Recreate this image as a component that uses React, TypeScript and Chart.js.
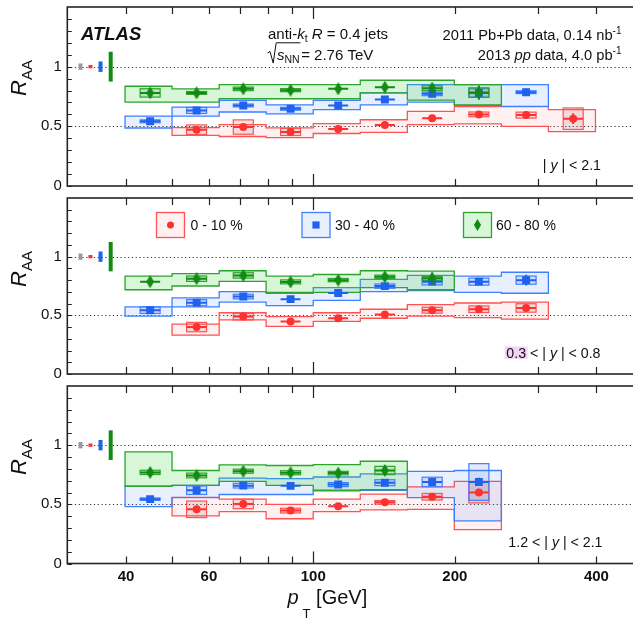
import React, { useEffect, useRef } from "react";
import { Chart, registerables } from "chart.js";
Chart.register(...registerables);

const FONT = "'Liberation Sans', Arial, Helvetica, sans-serif";
Chart.defaults.font.family = FONT;

// ---------- axes ----------
const X_MIN = 30;
const X_MAX = 500;
const Y_MIN = 0;
const Y_MAX = 1.5;
const X_TICKS = [40, 50, 60, 70, 80, 90, 100, 200, 300, 400];
const X_LABELS = [40, 60, 100, 200, 400];
const Y_LABELS = [0, 0.5, 1];
const Y_MINOR = [0, 0.1, 0.2, 0.3, 0.4, 0.5, 0.6, 0.7, 0.8, 0.9, 1.0, 1.1, 1.2, 1.3, 1.4];
const REF_LINES = [0.5, 1];

// ---------- binning (pT, GeV) ----------
const BIN_EDGES = [39.8, 50.1, 63.1, 79.4, 100, 125.9, 158.5, 199.5, 251.2, 316.2, 398.1];
const BIN_CENTERS = [45, 56.5, 71, 89.5, 113, 142, 179, 225, 283.5, 357];

// ---------- normalisation uncertainties at RAA = 1 ----------
const NORM_X = [32, 33.6, 35.3, 37.1];
const NORM_HALF = [0.027, 0.014, 0.044, 0.125];
const NORM_KEYS = ["grey", "red", "blue", "green"];

// ---------- text ----------
const CENTRALITY = ["0 - 10 %", "30 - 40 %", "60 - 80 %"];
const RAPIDITY = [
  ["", "2.1"],
  ["0.3", "0.8"],
  ["1.2", "2.1"],
];

// ---------- panel 1 : |y| < 2.1 ----------
const P1_RED_FIRST = 1;
const P1_RED_VAL = [0.472, 0.494, 0.453, 0.478, 0.511, 0.567, 0.6, 0.594, 0.564];
const P1_RED_STAT = [0.015, 0.02, 0.015, 0.012, 0.012, 0.014, 0.015, 0.02, 0.045];
const P1_RED_UNC = [0.04, 0.06, 0.03, 0.005, 0.005, 0.005, 0.02, 0.025, 0.09];
const P1_RED_LO = [0.425, 0.415, 0.405, 0.44, 0.45, 0.515, 0.52, 0.5, 0.455];
const P1_RED_HI = [0.49, 0.515, 0.487, 0.522, 0.555, 0.625, 0.665, 0.665, 0.64];

const P1_BLUE_FIRST = 0;
const P1_BLUE_VAL = [0.542, 0.633, 0.675, 0.647, 0.675, 0.725, 0.772, 0.78, 0.786];
const P1_BLUE_STAT = [0.012, 0.012, 0.012, 0.012, 0.012, 0.012, 0.02, 0.03, 0.03];
const P1_BLUE_UNC = [0.012, 0.025, 0.012, 0.012, 0.004, 0.008, 0.015, 0.035, 0.012];
const P1_BLUE_LO = [0.486, 0.586, 0.62, 0.605, 0.64, 0.68, 0.703, 0.675, 0.667];
const P1_BLUE_HI = [0.586, 0.661, 0.717, 0.68, 0.717, 0.78, 0.85, 0.85, 0.85];

const P1_GREEN_FIRST = 0;
const P1_GREEN_VAL = [0.78, 0.78, 0.814, 0.803, 0.814, 0.828, 0.82, 0.783];
const P1_GREEN_STAT = [0.035, 0.025, 0.025, 0.025, 0.025, 0.03, 0.035, 0.06];
const P1_GREEN_UNC = [0.035, 0.012, 0.015, 0.013, 0.004, 0.008, 0.02, 0.04];
const P1_GREEN_LO = [0.703, 0.703, 0.731, 0.731, 0.731, 0.78, 0.72, 0.68];
const P1_GREEN_HI = [0.836, 0.814, 0.85, 0.85, 0.85, 0.886, 0.886, 0.85];

// ---------- panel 2 : 0.3 < |y| < 0.8 ----------
const P2_RED_FIRST = 1;
const P2_RED_VAL = [0.4, 0.489, 0.448, 0.475, 0.508, 0.544, 0.552, 0.563];
const P2_RED_STAT = [0.02, 0.015, 0.012, 0.012, 0.012, 0.015, 0.02, 0.025];
const P2_RED_UNC = [0.04, 0.028, 0.004, 0.004, 0.004, 0.025, 0.028, 0.036];
const P2_RED_LO = [0.331, 0.461, 0.406, 0.448, 0.475, 0.494, 0.481, 0.467];
const P2_RED_HI = [0.425, 0.522, 0.489, 0.522, 0.552, 0.591, 0.605, 0.613];

const P2_BLUE_FIRST = 0;
const P2_BLUE_VAL = [0.544, 0.608, 0.66, 0.638, 0.69, 0.749, 0.787, 0.787, 0.8];
const P2_BLUE_STAT = [0.015, 0.012, 0.012, 0.012, 0.012, 0.012, 0.02, 0.025, 0.045];
const P2_BLUE_UNC = [0.028, 0.026, 0.02, 0.004, 0.004, 0.018, 0.028, 0.03, 0.035];
const P2_BLUE_LO = [0.494, 0.572, 0.613, 0.583, 0.627, 0.702, 0.71, 0.696, 0.688];
const P2_BLUE_HI = [0.572, 0.649, 0.702, 0.688, 0.737, 0.807, 0.84, 0.834, 0.867];

const P2_GREEN_FIRST = 0;
const P2_GREEN_VAL = [0.787, 0.812, 0.84, 0.785, 0.8, 0.829, 0.815];
const P2_GREEN_STAT = [0.02, 0.025, 0.025, 0.025, 0.02, 0.025, 0.05];
const P2_GREEN_UNC = [0.004, 0.023, 0.023, 0.017, 0.014, 0.014, 0.017];
const P2_GREEN_LO = [0.718, 0.75, 0.79, 0.696, 0.696, 0.737, 0.718];
const P2_GREEN_HI = [0.834, 0.856, 0.88, 0.834, 0.848, 0.88, 0.876];

// ---------- panel 3 : 1.2 < |y| < 2.1 ----------
const P3_RED_FIRST = 1;
const P3_RED_VAL = [0.458, 0.503, 0.447, 0.483, 0.517, 0.564, 0.6];
const P3_RED_STAT = [0.02, 0.02, 0.015, 0.012, 0.012, 0.015, 0.03];
const P3_RED_UNC = [0.07, 0.04, 0.02, 0.004, 0.015, 0.028, 0.088];
const P3_RED_LO = [0.403, 0.439, 0.378, 0.439, 0.453, 0.458, 0.286];
const P3_RED_HI = [0.558, 0.544, 0.5, 0.544, 0.586, 0.647, 0.694];

const P3_BLUE_FIRST = 0;
const P3_BLUE_VAL = [0.544, 0.619, 0.658, 0.656, 0.667, 0.683, 0.689, 0.689];
const P3_BLUE_STAT = [0.012, 0.015, 0.012, 0.012, 0.012, 0.015, 0.02, 0.035];
const P3_BLUE_UNC = [0.01, 0.036, 0.02, 0.008, 0.017, 0.025, 0.04, 0.155];
const P3_BLUE_LO = [0.481, 0.556, 0.583, 0.583, 0.614, 0.619, 0.556, 0.361];
const P3_BLUE_HI = [0.653, 0.661, 0.722, 0.717, 0.731, 0.758, 0.778, 0.786];

const P3_GREEN_FIRST = 0;
const P3_GREEN_VAL = [0.77, 0.744, 0.78, 0.767, 0.764, 0.786];
const P3_GREEN_STAT = [0.025, 0.025, 0.025, 0.025, 0.025, 0.04];
const P3_GREEN_UNC = [0.018, 0.02, 0.017, 0.017, 0.015, 0.035];
const P3_GREEN_LO = [0.653, 0.661, 0.694, 0.661, 0.619, 0.625];
const P3_GREEN_HI = [0.944, 0.786, 0.833, 0.828, 0.836, 0.864];

type Series = {
  key: string;
  first: number;
  val: number[];
  stat: number[];
  unc: number[];
  lo: number[];
  hi: number[];
};

const PANEL_SERIES: Series[][] = [
  [
    { key: "red", first: P1_RED_FIRST, val: P1_RED_VAL, stat: P1_RED_STAT, unc: P1_RED_UNC, lo: P1_RED_LO, hi: P1_RED_HI },
    { key: "blue", first: P1_BLUE_FIRST, val: P1_BLUE_VAL, stat: P1_BLUE_STAT, unc: P1_BLUE_UNC, lo: P1_BLUE_LO, hi: P1_BLUE_HI },
    { key: "green", first: P1_GREEN_FIRST, val: P1_GREEN_VAL, stat: P1_GREEN_STAT, unc: P1_GREEN_UNC, lo: P1_GREEN_LO, hi: P1_GREEN_HI },
  ],
  [
    { key: "red", first: P2_RED_FIRST, val: P2_RED_VAL, stat: P2_RED_STAT, unc: P2_RED_UNC, lo: P2_RED_LO, hi: P2_RED_HI },
    { key: "blue", first: P2_BLUE_FIRST, val: P2_BLUE_VAL, stat: P2_BLUE_STAT, unc: P2_BLUE_UNC, lo: P2_BLUE_LO, hi: P2_BLUE_HI },
    { key: "green", first: P2_GREEN_FIRST, val: P2_GREEN_VAL, stat: P2_GREEN_STAT, unc: P2_GREEN_UNC, lo: P2_GREEN_LO, hi: P2_GREEN_HI },
  ],
  [
    { key: "red", first: P3_RED_FIRST, val: P3_RED_VAL, stat: P3_RED_STAT, unc: P3_RED_UNC, lo: P3_RED_LO, hi: P3_RED_HI },
    { key: "blue", first: P3_BLUE_FIRST, val: P3_BLUE_VAL, stat: P3_BLUE_STAT, unc: P3_BLUE_UNC, lo: P3_BLUE_LO, hi: P3_BLUE_HI },
    { key: "green", first: P3_GREEN_FIRST, val: P3_GREEN_VAL, stat: P3_GREEN_STAT, unc: P3_GREEN_UNC, lo: P3_GREEN_LO, hi: P3_GREEN_HI },
  ],
];

// ---------- styles ----------
const STYLE: any = {
  red: { marker: "#ff3030", line: "#ff5252", fill: "rgba(255,60,60,0.07)", boxFill: "rgba(190,110,110,0.18)", radius: 4 },
  blue: { marker: "#1f62f0", line: "#3f80ff", fill: "rgba(50,115,255,0.11)", boxFill: "rgba(90,120,190,0.16)", radius: 5.6 },
  green: { marker: "#138a13", line: "#2ea32e", fill: "rgba(60,210,60,0.2)", boxFill: "rgba(60,160,60,0.18)", radius: 6 },
  grey: { marker: "#9a9a9a" },
};
const BOX_HALF_PX = 10;
const NORM_HALF_PX = 2;
const CANVAS_W = 650;
const CANVAS_TOP = [0, 192, 380];
const CANVAS_H = [192, 188, 238];
const PAD_TOP = [7, 2.5, 1.5];
const PAD_BOTTOM = [3, 3.5, 0];
const Y_AXIS_W = 67.3;
const X_AXIS_H = 54.5;
const TEXT = "#111";

const f = (size: number, style = "") => `${style} ${size}px ${FONT}`;

type Part = { t: string; font: string; dy?: number; dx?: number };
function richWidth(ctx: CanvasRenderingContext2D, parts: Part[]) {
  let w = 0;
  for (const p of parts) {
    ctx.font = p.font;
    w += ctx.measureText(p.t).width + (p.dx || 0);
  }
  return w;
}
function drawRich(ctx: CanvasRenderingContext2D, parts: Part[], x: number, y: number, align = "left") {
  const w = richWidth(ctx, parts);
  let cx = align === "right" ? x - w : align === "center" ? x - w / 2 : x;
  const start = cx;
  ctx.textAlign = "left";
  ctx.textBaseline = "alphabetic";
  for (const p of parts) {
    ctx.font = p.font;
    cx += p.dx || 0;
    ctx.fillText(p.t, cx, y + (p.dy || 0));
    cx += ctx.measureText(p.t).width;
  }
  return start;
}

function makeDiamond(color: string, w: number, h: number) {
  const c = document.createElement("canvas");
  c.width = w;
  c.height = h;
  const g = c.getContext("2d")!;
  g.fillStyle = color;
  g.beginPath();
  g.moveTo(w / 2, 0);
  g.lineTo(w, h / 2);
  g.lineTo(w / 2, h);
  g.lineTo(0, h / 2);
  g.closePath();
  g.fill();
  return c;
}

function drawMarker(ctx: CanvasRenderingContext2D, key: string, x: number, y: number, s = 1) {
  ctx.fillStyle = STYLE[key].marker;
  ctx.beginPath();
  if (key === "red") {
    ctx.arc(x, y, 3.5 * s, 0, Math.PI * 2);
  } else if (key === "blue") {
    ctx.rect(x - 3.6 * s, y - 3.6 * s, 7.2 * s, 7.2 * s);
  } else {
    ctx.moveTo(x, y - 6 * s);
    ctx.lineTo(x + 3.6 * s, y);
    ctx.lineTo(x, y + 6 * s);
    ctx.lineTo(x - 3.6 * s, y);
    ctx.closePath();
  }
  ctx.fill();
}

function drawUnder(chart: any, panel: number) {
  const ctx: CanvasRenderingContext2D = chart.ctx;
  const xs = chart.scales.x;
  const ys = chart.scales.y;
  const area = chart.chartArea;
  ctx.save();
  // dotted reference lines
  ctx.strokeStyle = "#333";
  ctx.lineWidth = 1;
  ctx.setLineDash([1.2, 2.6]);
  for (const v of REF_LINES) {
    const y = Math.round(ys.getPixelForValue(v)) + 0.5;
    ctx.beginPath();
    ctx.moveTo(area.left, y);
    ctx.lineTo(area.right, y);
    ctx.stroke();
  }
  ctx.setLineDash([]);
  // normalisation boxes
  for (let k = 0; k < NORM_X.length; k++) {
    const x = xs.getPixelForValue(NORM_X[k]);
    const y1 = ys.getPixelForValue(1 + NORM_HALF[k]);
    const y2 = ys.getPixelForValue(1 - NORM_HALF[k]);
    ctx.fillStyle = STYLE[NORM_KEYS[k]].marker;
    ctx.fillRect(x - NORM_HALF_PX, y1, NORM_HALF_PX * 2, y2 - y1);
  }
  const series = PANEL_SERIES[panel];
  // correlated systematic bands
  for (const s of series) {
    const st = STYLE[s.key];
    const n = s.val.length;
    ctx.beginPath();
    for (let i = 0; i < n; i++) {
      const b = s.first + i;
      const xl = xs.getPixelForValue(BIN_EDGES[b]);
      const xr = xs.getPixelForValue(BIN_EDGES[b + 1]);
      const yt = ys.getPixelForValue(s.hi[i]);
      if (i === 0) ctx.moveTo(xl, yt);
      else ctx.lineTo(xl, yt);
      ctx.lineTo(xr, yt);
    }
    for (let i = n - 1; i >= 0; i--) {
      const b = s.first + i;
      const xl = xs.getPixelForValue(BIN_EDGES[b]);
      const xr = xs.getPixelForValue(BIN_EDGES[b + 1]);
      const yb = ys.getPixelForValue(s.lo[i]);
      ctx.lineTo(xr, yb);
      ctx.lineTo(xl, yb);
    }
    ctx.closePath();
    ctx.fillStyle = st.fill;
    ctx.fill();
    ctx.strokeStyle = st.line;
    ctx.lineWidth = 1.3;
    ctx.stroke();
  }
  // uncorrelated systematic boxes
  for (const s of series) {
    const st = STYLE[s.key];
    for (let i = 0; i < s.val.length; i++) {
      const x = xs.getPixelForValue(BIN_CENTERS[s.first + i]);
      const yt = ys.getPixelForValue(s.val[i] + s.unc[i]);
      const yb = ys.getPixelForValue(s.val[i] - s.unc[i]);
      if (yb - yt < 2) continue;
      ctx.fillStyle = st.boxFill;
      ctx.fillRect(x - BOX_HALF_PX, yt, BOX_HALF_PX * 2, yb - yt);
      ctx.strokeStyle = st.line;
      ctx.lineWidth = 1.2;
      ctx.strokeRect(x - BOX_HALF_PX, yt, BOX_HALF_PX * 2, yb - yt);
    }
  }
  // statistical error bars
  for (const s of series) {
    const st = STYLE[s.key];
    ctx.strokeStyle = st.marker;
    ctx.lineWidth = 2;
    for (let i = 0; i < s.val.length; i++) {
      const x = xs.getPixelForValue(BIN_CENTERS[s.first + i]);
      const y = ys.getPixelForValue(s.val[i]);
      const yt = ys.getPixelForValue(s.val[i] + s.stat[i]);
      const yb = ys.getPixelForValue(s.val[i] - s.stat[i]);
      ctx.beginPath();
      ctx.moveTo(x, yt);
      ctx.lineTo(x, yb);
      ctx.moveTo(x - BOX_HALF_PX, y);
      ctx.lineTo(x + BOX_HALF_PX, y);
      ctx.stroke();
    }
  }
  ctx.restore();
}

function drawOver(chart: any, panel: number) {
  const ctx: CanvasRenderingContext2D = chart.ctx;
  const xs = chart.scales.x;
  const ys = chart.scales.y;
  const area = chart.chartArea;
  ctx.save();
  // ticks
  ctx.strokeStyle = "#222";
  ctx.lineWidth = 1.2;
  ctx.beginPath();
  for (const v of X_TICKS) {
    const x = Math.round(xs.getPixelForValue(v)) + 0.5;
    const len = v === 100 ? 12 : 7;
    ctx.moveTo(x, area.bottom);
    ctx.lineTo(x, area.bottom - len);
    ctx.moveTo(x, area.top);
    ctx.lineTo(x, area.top + len);
  }
  for (const v of Y_MINOR) {
    const y = Math.round(ys.getPixelForValue(v)) + 0.5;
    ctx.moveTo(area.left, y);
    ctx.lineTo(area.left + 4.5, y);
  }
  ctx.stroke();
  // frame
  ctx.lineWidth = 1.6;
  ctx.strokeStyle = "#252525";
  ctx.strokeRect(area.left, area.top, area.right - area.left, area.bottom - area.top);

  // Y title R_AA
  ctx.fillStyle = TEXT;
  ctx.save();
  ctx.translate(26, area.top + 71);
  ctx.rotate(-Math.PI / 2);
  drawRich(
    ctx,
    [
      { t: "R", font: f(22, "italic") },
      { t: "AA", font: f(15), dy: 6 },
    ],
    0,
    0,
    "center"
  );
  ctx.restore();

  // page coordinates from here
  ctx.translate(0, -CANVAS_TOP[panel]);
  ctx.fillStyle = TEXT;

  // rapidity label
  const [rl, rh] = RAPIDITY[panel];
  const RF = 14.2;
  const rparts: Part[] = [];
  if (rl) rparts.push({ t: rl, font: f(RF) }, { t: " < ", font: f(RF) });
  rparts.push({ t: "| ", font: f(RF) }, { t: "y", font: f(RF, "italic") }, { t: " | < " + rh, font: f(RF) });
  const rBase = [169.8, 357.5, 546.5][panel];
  const rRight = [601, 600.5, 602.5][panel];
  if (panel === 1) {
    const w = richWidth(ctx, rparts);
    ctx.font = f(RF);
    const w03 = ctx.measureText(rl).width;
    ctx.fillStyle = "#f3d4f6";
    ctx.fillRect(rRight - w - 1.5, 346.5, w03 + 3, 12.5);
    ctx.fillStyle = TEXT;
  }
  drawRich(ctx, rparts, rRight, rBase, "right");

  if (panel === 0) {
    drawRich(ctx, [{ t: "ATLAS", font: f(18.5, "italic bold") }], 81, 39.5);
    drawRich(
      ctx,
      [
        { t: "anti-", font: f(15) },
        { t: "k", font: f(15, "italic") },
        { t: "t", font: f(10.5), dy: 3 },
        { t: " ", font: f(15) },
        { t: "R", font: f(15, "italic") },
        { t: " = 0.4 jets", font: f(15) },
      ],
      268,
      38.5
    );
    // sqrt(s_NN)
    ctx.strokeStyle = TEXT;
    ctx.lineWidth = 1;
    ctx.beginPath();
    ctx.moveTo(267.5, 53);
    ctx.lineTo(270, 51.5);
    ctx.lineTo(273.2, 63);
    ctx.lineTo(276.2, 42.8);
    ctx.lineTo(300.5, 42.8);
    ctx.stroke();
    drawRich(
      ctx,
      [
        { t: "s", font: f(15, "italic") },
        { t: "NN", font: f(10.5), dy: 3 },
        { t: "= 2.76 TeV", font: f(15), dx: 1.5 },
      ],
      277,
      59.5
    );
    drawRich(
      ctx,
      [
        { t: "2011 Pb+Pb data, 0.14 nb", font: f(14.7) },
        { t: "-1", font: f(10), dy: -6 },
      ],
      621.5,
      39.5,
      "right"
    );
    drawRich(
      ctx,
      [
        { t: "2013 ", font: f(14.7) },
        { t: "pp", font: f(14.7, "italic") },
        { t: " data, 4.0 pb", font: f(14.7) },
        { t: "-1", font: f(10), dy: -6 },
      ],
      621.5,
      60,
      "right"
    );
  }

  if (panel === 1) {
    const keys = ["red", "blue", "green"];
    const boxX = [156.5, 302, 463.5];
    const textX = [190.5, 335, 496];
    for (let k = 0; k < 3; k++) {
      const st = STYLE[keys[k]];
      ctx.fillStyle = "#fff";
      ctx.fillRect(boxX[k], 212.5, 28, 25);
      ctx.fillStyle = st.fill;
      ctx.fillRect(boxX[k], 212.5, 28, 25);
      ctx.strokeStyle = st.line;
      ctx.lineWidth = 1.3;
      ctx.strokeRect(boxX[k], 212.5, 28, 25);
      drawMarker(ctx, keys[k], boxX[k] + 14, 225);
      ctx.fillStyle = TEXT;
      drawRich(ctx, [{ t: CENTRALITY[k], font: f(14) }], textX[k], 230);
    }
  }

  if (panel === 2) {
    ctx.fillStyle = TEXT;
    drawRich(
      ctx,
      [
        { t: "p", font: f(20, "italic") },
        { t: "T", font: f(13), dy: 13.5, dx: 4 },
        { t: " [GeV]", font: f(20), dx: 0 },
      ],
      287.5,
      604
    );
  }
  ctx.restore();
}

function buildConfig(panel: number, diamond: HTMLCanvasElement): any {
  const showX = panel === 2;
  const series = PANEL_SERIES[panel];
  const datasets = [...series].reverse().map((s) => ({
    label: s.key,
    data: s.val.map((v, i) => ({ x: BIN_CENTERS[s.first + i], y: v })),
    pointStyle: s.key === "red" ? "circle" : s.key === "blue" ? "rect" : diamond,
    pointRadius: STYLE[s.key].radius,
    pointHoverRadius: STYLE[s.key].radius,
    backgroundColor: STYLE[s.key].marker,
    borderColor: STYLE[s.key].marker,
    borderWidth: 0,
    showLine: false,
  }));
  return {
    type: "scatter",
    data: { datasets },
    options: {
      animation: false,
      responsive: false,
      maintainAspectRatio: false,
      devicePixelRatio: 1,
      events: [],
      layout: { padding: { left: 0, right: CANVAS_W - 642, top: PAD_TOP[panel], bottom: PAD_BOTTOM[panel] } },
      plugins: { legend: { display: false }, tooltip: { enabled: false } },
      scales: {
        x: {
          type: "logarithmic",
          min: X_MIN,
          max: X_MAX,
          display: showX,
          afterBuildTicks: (s: any) => {
            s.ticks = X_TICKS.map((v) => ({ value: v }));
          },
          afterFit: (s: any) => {
            s.height = showX ? X_AXIS_H : 0;
            s.paddingLeft = 0;
            s.paddingRight = 0;
          },
          ticks: {
            autoSkip: false,
            maxRotation: 0,
            minRotation: 0,
            padding: 4,
            color: TEXT,
            font: { family: FONT, size: 15, weight: "bold" },
            callback: (v: any) => (X_LABELS.includes(Number(v)) ? String(v) : ""),
          },
          grid: { display: false, drawTicks: false },
          border: { display: false },
        },
        y: {
          min: Y_MIN,
          max: Y_MAX,
          afterBuildTicks: (s: any) => {
            s.ticks = Y_LABELS.map((v) => ({ value: v }));
          },
          afterFit: (s: any) => {
            s.width = Y_AXIS_W;
            s.paddingTop = 0;
            s.paddingBottom = 0;
          },
          ticks: {
            padding: 5.5,
            color: TEXT,
            font: { family: FONT, size: 15 },
            callback: (v: any) => String(v),
          },
          grid: { display: false, drawTicks: false },
          border: { display: false },
        },
      },
    },
    plugins: [
      {
        id: "atlasPanel" + panel,
        beforeDatasetsDraw: (chart: any) => drawUnder(chart, panel),
        afterDraw: (chart: any) => drawOver(chart, panel),
      },
    ],
  };
}

export default function App() {
  const r1 = useRef<HTMLCanvasElement>(null);
  const r2 = useRef<HTMLCanvasElement>(null);
  const r3 = useRef<HTMLCanvasElement>(null);
  const refs = [r1, r2, r3];
  useEffect(() => {
    const diamond = makeDiamond(STYLE.green.marker, 8, 13);
    const charts = refs.map((r, i) => new Chart(r.current as HTMLCanvasElement, buildConfig(i, diamond)));
    return () => charts.forEach((c) => c.destroy());
  }, []);
  return (
    <div style={{ position: "absolute", left: 0, top: 0, width: 633, height: 618, overflow: "hidden", background: "#fff" }}>
      {CANVAS_TOP.map((t, i) => (
        <canvas
          key={i}
          ref={refs[i]}
          width={CANVAS_W}
          height={CANVAS_H[i]}
          style={{ position: "absolute", left: 0, top: t, width: CANVAS_W, height: CANVAS_H[i] }}
        />
      ))}
    </div>
  );
}
